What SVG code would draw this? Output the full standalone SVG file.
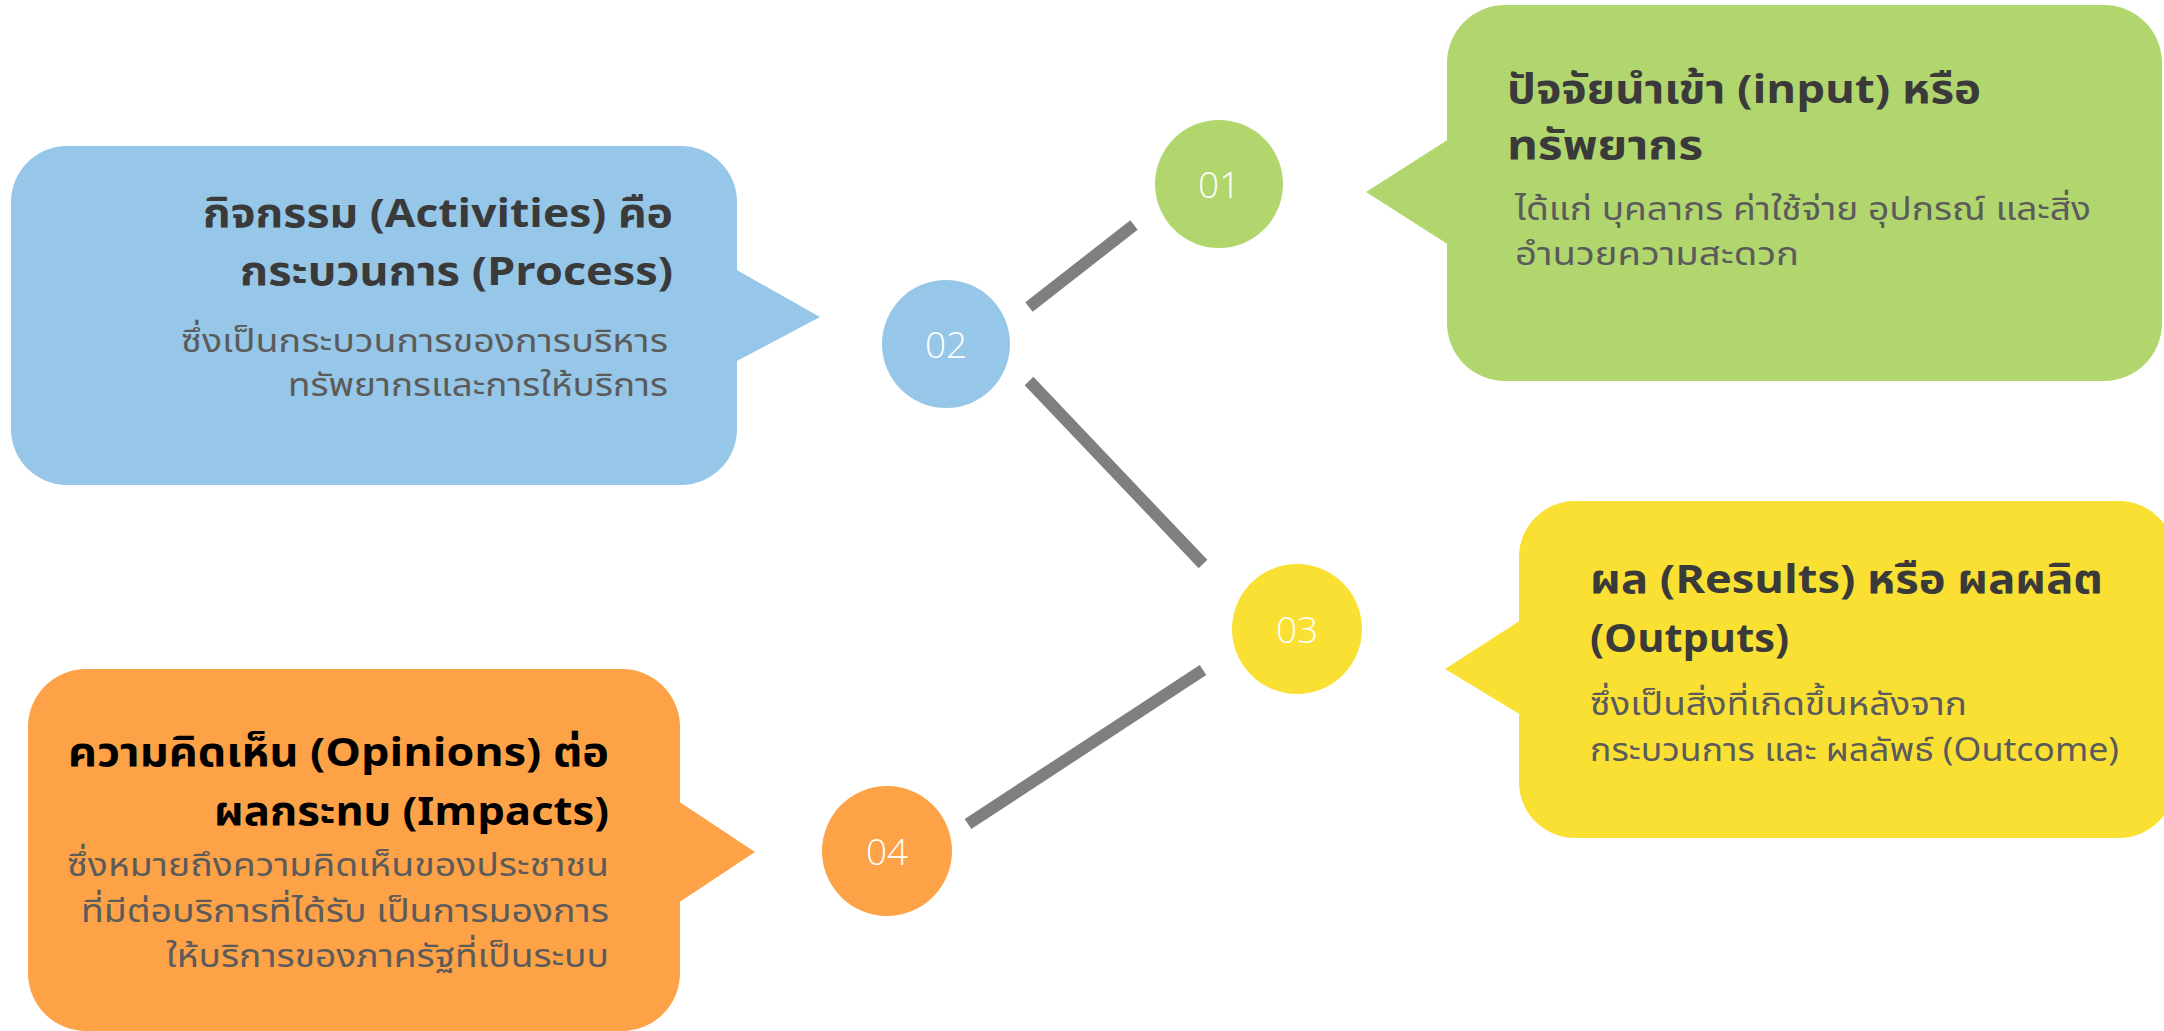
<svg xmlns="http://www.w3.org/2000/svg" width="2164" height="1031" viewBox="0 0 2164 1031">
  <style>
    .title { font-family: "Noto Sans Thai", "Noto Sans", "Open Sans", sans-serif; font-weight: 700; font-size: 40px; fill: #3a3a3a; }
    .title.dark { fill: #000000; }
    .sub { font-family: "Noto Sans Thai", "Noto Sans", "Open Sans", sans-serif; font-weight: 400; font-size: 32px; fill: #5b5b5b; }
    .num { font-family: "Open Sans", "Noto Sans", sans-serif; font-weight: 300; font-size: 37px; fill: #ffffff; text-anchor: middle; }
    .end { text-anchor: end; }
    .link { stroke: #7f7f7f; stroke-width: 12; fill: none; }
    .blue { fill: #97c7e8; }
    .green { fill: #b2d66e; }
    .yellow { fill: #f9e033; }
    .orange { fill: #fda246; }
  </style>

  <rect width="2164" height="1031" fill="#ffffff"/>

  <!-- connectors between the numbered circles -->
  <g id="connectors">
    <line class="link" x1="1134" y1="225" x2="1029" y2="307"/>
    <line class="link" x1="1029" y1="381" x2="1203" y2="564"/>
    <line class="link" x1="1203" y1="670" x2="968" y2="824"/>
  </g>

  <!-- 01: input -->
  <g id="node-01">
    <circle class="green" cx="1219" cy="184" r="64"/>
    <text class="num" x="1219" y="198">01</text>
  </g>
  <g id="callout-input">
    <rect class="green" x="1447" y="5" width="715" height="376" rx="58"/>
    <polygon class="green" points="1449,139 1366,192 1449,245"/>
    <text class="title" x="1507" y="103" textLength="474" lengthAdjust="spacingAndGlyphs">ปัจจัยนำเข้า (input) หรือ</text>
    <text class="title" x="1507" y="159" textLength="196" lengthAdjust="spacingAndGlyphs">ทรัพยากร</text>
    <text class="sub" x="1515" y="220" textLength="576" lengthAdjust="spacingAndGlyphs">ได้แก่ บุคลากร ค่าใช้จ่าย อุปกรณ์ และสิ่ง</text>
    <text class="sub" x="1515" y="265" textLength="284" lengthAdjust="spacingAndGlyphs">อำนวยความสะดวก</text>
  </g>

  <!-- 02: process -->
  <g id="node-02">
    <circle class="blue" cx="946" cy="344" r="64"/>
    <text class="num" x="946" y="358">02</text>
  </g>
  <g id="callout-process">
    <rect class="blue" x="11" y="146" width="726" height="339" rx="56"/>
    <polygon class="blue" points="735,269 820,317 735,362"/>
    <text class="title end" x="673" y="227" textLength="470" lengthAdjust="spacingAndGlyphs">กิจกรรม (Activities) คือ</text>
    <text class="title end" x="673" y="285" textLength="433" lengthAdjust="spacingAndGlyphs">กระบวนการ (Process)</text>
    <text class="sub end" x="668" y="352" textLength="487" lengthAdjust="spacingAndGlyphs">ซึ่งเป็นกระบวนการของการบริหาร</text>
    <text class="sub end" x="668" y="396" textLength="380" lengthAdjust="spacingAndGlyphs">ทรัพยากรและการให้บริการ</text>
  </g>

  <!-- 03: results -->
  <g id="node-03">
    <circle class="yellow" cx="1297" cy="629" r="65"/>
    <text class="num" x="1297" y="643">03</text>
  </g>
  <g id="callout-results">
    <rect class="yellow" x="1519" y="501" width="656" height="337" rx="56"/>
    <polygon class="yellow" points="1521,620 1445,669 1521,715"/>
    <text class="title" x="1590" y="593" textLength="513" lengthAdjust="spacingAndGlyphs">ผล (Results) หรือ ผลผลิต</text>
    <text class="title" x="1590" y="652" textLength="199" lengthAdjust="spacingAndGlyphs">(Outputs)</text>
    <text class="sub" x="1590" y="715" textLength="377" lengthAdjust="spacingAndGlyphs">ซึ่งเป็นสิ่งที่เกิดขึ้นหลังจาก</text>
    <text class="sub" x="1590" y="761" textLength="529" lengthAdjust="spacingAndGlyphs">กระบวนการ และ ผลลัพธ์ (Outcome)</text>
  </g>

  <!-- 04: opinions -->
  <g id="node-04">
    <circle class="orange" cx="887" cy="851" r="65"/>
    <text class="num" x="887" y="865">04</text>
  </g>
  <g id="callout-opinions">
    <rect class="orange" x="28" y="669" width="652" height="362" rx="58"/>
    <polygon class="orange" points="678,801 755,852 678,903"/>
    <text class="title dark end" x="609" y="766" textLength="541" lengthAdjust="spacingAndGlyphs">ความคิดเห็น (Opinions) ต่อ</text>
    <text class="title dark end" x="609" y="825" textLength="395" lengthAdjust="spacingAndGlyphs">ผลกระทบ (Impacts)</text>
    <text class="sub end" x="609" y="876" textLength="542" lengthAdjust="spacingAndGlyphs">ซึ่งหมายถึงความคิดเห็นของประชาชน</text>
    <text class="sub end" x="609" y="922" textLength="528" lengthAdjust="spacingAndGlyphs">ที่มีต่อบริการที่ได้รับ เป็นการมองการ</text>
    <text class="sub end" x="609" y="967" textLength="443" lengthAdjust="spacingAndGlyphs">ให้บริการของภาครัฐที่เป็นระบบ</text>
  </g>
</svg>
